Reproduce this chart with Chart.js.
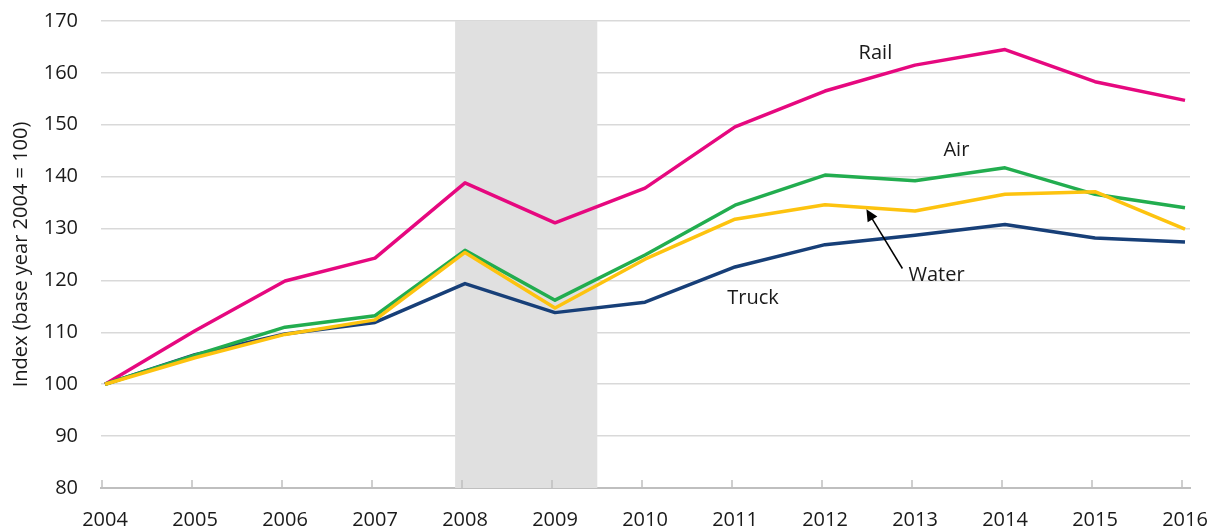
<!DOCTYPE html>
<html>
<head>
<meta charset="utf-8">
<script src="https://cdn.jsdelivr.net/npm/chart.js@4.4.1/dist/chart.umd.min.js"></script>
<style>
  html, body { margin: 0; padding: 0; background: #fff; }
  #wrap { width: 1221px; height: 531px; }
</style>
</head>
<body>
<div id="wrap"><canvas id="myChart"></canvas></div>
<script>
var years = [2004, 2005, 2006, 2007, 2008, 2009, 2010, 2011, 2012, 2013, 2014, 2015, 2016];
var rail  = [100, 110.3, 119.9, 124.3, 138.8, 131.1, 137.8, 149.6, 156.5, 161.5, 164.5, 158.3, 154.7];
var air   = [100, 105.6, 111.0, 113.2, 125.8, 116.2, 124.9, 134.5, 140.3, 139.2, 141.7, 136.6, 134.0];
var water = [100, 105.1, 109.6, 112.4, 125.4, 114.7, 124.1, 131.8, 134.6, 133.4, 136.6, 137.1, 129.9];
var truck = [100, 105.7, 109.7, 111.9, 119.4, 113.8, 115.8, 122.6, 126.9, 128.7, 130.8, 128.2, 127.4];
var yTicks = [80, 90, 100, 110, 120, 130, 140, 150, 160, 170];

// recession band (Dec 2007 - Jun 2009)
var recession = [2007.89, 2009.47];

// label annotations in data coordinates
var labelNames = ['Rail', 'Air', 'Water', 'Truck'];
var labelX = [2012.56, 2013.46, 2013.24, 2011.2];
var labelY = [163.8, 145.1, 121.0, 116.6];
var arrowFrom = [2012.86, 122.3];
var arrowTo = [2012.46, 133.7];

function pts(vals) {
    return vals.map(function (v, i) { return { x: years[i], y: v }; });
}

var fontFam = "'Open Sans', 'Noto Sans', sans-serif";

var extras = {
    id: 'extras',
    beforeDatasetsDraw: function (chart) {
        var c = chart.ctx, xs = chart.scales.x, area = chart.chartArea;
        var x1 = xs.getPixelForValue(recession[0]);
        var x2 = xs.getPixelForValue(recession[1]);
        c.save();
        c.fillStyle = '#e0e0e0';
        c.fillRect(x1, area.top, x2 - x1, area.bottom - area.top);
        c.restore();
    },
    afterDatasetsDraw: function (chart) {
        var c = chart.ctx, xs = chart.scales.x, ys = chart.scales.y, area = chart.chartArea;
        c.save();
        // inside tick marks on the x axis
        c.strokeStyle = '#bfbfbf';
        c.lineWidth = 1.5;
        years.forEach(function (yr) {
            var px = Math.round(xs.getPixelForValue(yr)) - 3;
            c.beginPath();
            c.moveTo(px, area.bottom);
            c.lineTo(px, area.bottom - 8);
            c.stroke();
        });
        // series labels
        c.fillStyle = '#1a1a1a';
        c.font = '20px ' + fontFam;
        c.textAlign = 'center';
        c.textBaseline = 'middle';
        labelNames.forEach(function (n, i) {
            c.fillText(n, xs.getPixelForValue(labelX[i]), ys.getPixelForValue(labelY[i]));
        });
        // arrow to Water line
        var ax = xs.getPixelForValue(arrowFrom[0]), ay = ys.getPixelForValue(arrowFrom[1]);
        var bx = xs.getPixelForValue(arrowTo[0]), by = ys.getPixelForValue(arrowTo[1]);
        var ang = Math.atan2(by - ay, bx - ax);
        c.strokeStyle = '#000';
        c.lineWidth = 1.5;
        c.beginPath();
        c.moveTo(ax, ay);
        c.lineTo(bx - Math.cos(ang) * 8, by - Math.sin(ang) * 8);
        c.stroke();
        c.fillStyle = '#000';
        c.beginPath();
        c.moveTo(bx, by);
        c.lineTo(bx - Math.cos(ang - 0.45) * 13, by - Math.sin(ang - 0.45) * 13);
        c.lineTo(bx - Math.cos(ang + 0.45) * 13, by - Math.sin(ang + 0.45) * 13);
        c.closePath();
        c.fill();
        c.restore();
    }
};

function line(label, data, color) {
    return {
        label: label,
        data: pts(data),
        borderColor: color,
        backgroundColor: color,
        borderWidth: 3.5,
        pointRadius: 0,
        tension: 0,
        borderJoinStyle: 'round'
    };
}

var ctx = document.getElementById('myChart');
new Chart(ctx, {
    type: 'line',
    data: {
        datasets: [
            line('Water', water, '#fdc30f'),
            line('Air', air, '#22ad4f'),
            line('Truck', truck, '#173f78'),
            line('Rail', rail, '#e6087f')
        ]
    },
    options: {
        responsive: true,
        maintainAspectRatio: false,
        animation: false,
        layout: { padding: { top: 21, right: 31, left: 0, bottom: 0 } },
        plugins: {
            legend: { display: false },
            tooltip: { enabled: false }
        },
        scales: {
            x: {
                type: 'linear',
                min: 2004 - 4 / 90,
                max: 2016 + 5 / 90,
                afterBuildTicks: function (scale) {
                    scale.ticks = years.map(function (v) { return { value: v }; });
                },
                afterFit: function (scale) {
                    scale.height = 43;
                    scale.paddingLeft = 0;
                    scale.paddingRight = 0;
                },
                grid: { display: true, drawOnChartArea: false, drawTicks: false },
                border: { display: true, color: '#bfbfbf', width: 2 },
                ticks: {
                    padding: 20,
                    color: '#1a1a1a',
                    font: { size: 20, family: fontFam },
                    maxRotation: 0,
                    autoSkip: false,
                    callback: function (v) { return String(v); }
                }
            },
            y: {
                min: 80,
                max: 170,
                afterBuildTicks: function (scale) {
                    scale.ticks = yTicks.map(function (v) { return { value: v }; });
                },
                afterFit: function (scale) {
                    scale.width = 101;
                    scale.paddingTop = 0;
                    scale.paddingBottom = 0;
                },
                grid: { color: '#d9d9d9', lineWidth: 1.5, drawTicks: false },
                border: { display: false },
                ticks: {
                    padding: 23,
                    color: '#1a1a1a',
                    font: { size: 20, family: fontFam }
                },
                title: {
                    display: true,
                    text: 'Index (base year 2004 = 100)',
                    color: '#1a1a1a',
                    font: { size: 20, family: fontFam },
                    padding: { top: 9, bottom: 0 }
                }
            }
        }
    },
    plugins: [extras]
});
</script>
</body>
</html>
